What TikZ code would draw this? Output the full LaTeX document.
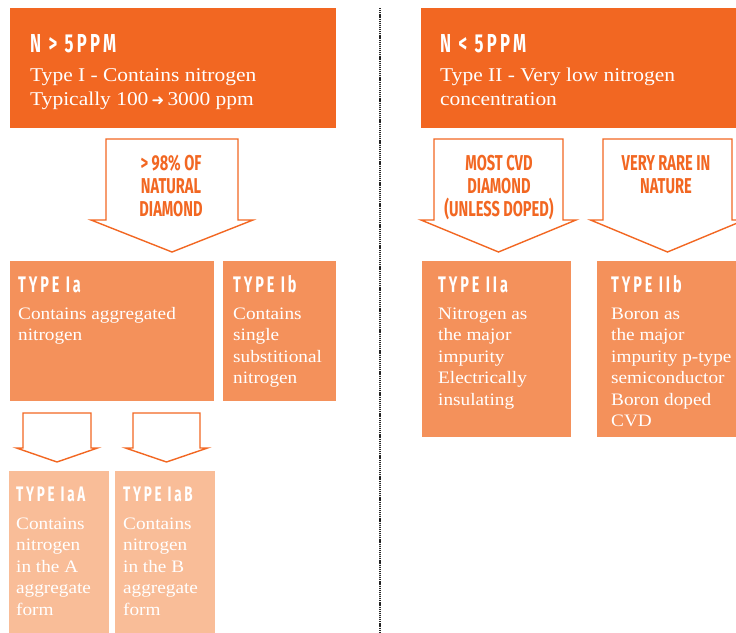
\documentclass[tikz,border=0pt]{standalone}
\usepackage{fontspec}
\setmainfont[FakeStretch=1.1]{Liberation Serif}
\newfontfamily\headfont[FakeStretch=0.64,LetterSpace=13]{Fira Sans}
\newfontfamily\tagfont[FakeStretch=0.68]{Fira Sans}
\newfontfamily\symfont{DejaVu Sans}
\definecolor{ordark}{HTML}{F26722}
\definecolor{ormid}{HTML}{F4915B}
\definecolor{orlight}{HTML}{F9BD98}
\tikzset{
  head/.style={anchor=base west, inner sep=0pt, text=white, font=\headfont\bfseries\fontsize{22.5}{22.5}\selectfont},
  body/.style={anchor=base west, inner sep=0pt, text=white, align=left, font=\fontsize{17.5}{21.5}\selectfont},
  tag/.style={anchor=base, inner sep=0pt, text=ordark, align=center, font=\tagfont\bfseries\fontsize{21.5}{23}\selectfont},
  blk/.style={draw=ordark, line width=1.4pt, fill=white, line join=miter},
  card/.style={anchor=north west, inner sep=0pt, draw=none}
}
\begin{document}
\begin{tikzpicture}[x=1pt, y=-1pt]
\useasboundingbox (0,0) rectangle (736,632);

\node[card, fill=ordark, minimum width=326, minimum height=120] (nI) at (10,8) {};
\node[card, fill=ordark, minimum width=330, minimum height=120] (nII) at (421,8) {};

\node[card, fill=ormid, minimum width=204, minimum height=140] (tIa) at (10,261) {};
\node[card, fill=ormid, minimum width=113, minimum height=140] (tIb) at (223,261) {};
\node[card, fill=ormid, minimum width=149, minimum height=176] (tIIa) at (422,261) {};
\node[card, fill=ormid, minimum width=150, minimum height=176] (tIIb) at (597,261) {};

\node[card, fill=orlight, minimum width=100, minimum height=170] (tIaA) at (9,471) {};
\node[card, fill=orlight, minimum width=100, minimum height=170] (tIaB) at (115,471) {};

\coordinate (dtop) at (380,8);
\coordinate (dbot) at (380,632);
\draw[line width=1.4pt, dash pattern=on 1.2pt off 0.9pt, black!85] (dtop) -- (dbot);

\foreach \cx/\bw/\hw/\yt/\yb/\yp in {172/66/81/139/220/252, 498.5/64.5/77.5/139/220/252, 667.5/64.5/77/139/220/252, 57/34/40.5/413/448/462, 166.5/33.5/41/413/448/462}{
\draw[blk] (\cx-\bw,\yt) -- (\cx+\bw,\yt) -- (\cx+\bw,\yb) -- (\cx+\hw,\yb) -- (\cx,\yp) -- (\cx-\hw,\yb) -- (\cx-\bw,\yb) -- cycle;
}

\node[head, font=\headfont\bfseries\fontsize{26}{26}\selectfont] (hI) at (30,52) {N > 5PPM};
\node[body, font=\fontsize{19.5}{24}\selectfont] (bI) at (30,105) {Type I - Contains nitrogen\\Typically 100\,{\symfont\fontsize{15}{15}\selectfont ➜}\,3000 ppm};
\node[head, font=\headfont\bfseries\fontsize{26}{26}\selectfont] (hII) at (440,52) {N < 5PPM};
\node[body, font=\fontsize{19.5}{24}\selectfont] (bII) at (440,105) {Type II - Very low nitrogen\\concentration};

\node[tag] (gI) at (171,216) {> 98\% OF\\NATURAL\\DIAMOND};
\node[tag] (gIIa) at (499,216) {MOST CVD\\DIAMOND\\(UNLESS DOPED)};
\node[tag] (gIIb) at (666,193) {VERY RARE IN\\NATURE};

\node[head] (hIa) at (18,292) {TYPE Ia};
\node[body] (bIa) at (18,340.5) {Contains aggregated\\nitrogen};
\node[head] (hIb) at (233,292) {TYPE Ib};
\node[body] (bIb) at (233,383.5) {Contains\\single\\substitional\\nitrogen};
\node[head] (hIIa) at (438,292) {TYPE IIa};
\node[body] (bIIa) at (438,405) {Nitrogen as\\the major\\impurity\\Electrically\\insulating};
\node[head] (hIIb) at (611,292) {TYPE IIb};
\node[body] (bIIb) at (611,426.5) {Boron as\\the major\\impurity p-type\\semiconductor\\Boron doped\\CVD};

\begin{scope}[every node/.append style={text=white!96!orange}]
\node[head, font=\headfont\bfseries\fontsize{21}{21}\selectfont] (hIaA) at (16,501) {TYPE IaA};
\node[body] (bIaA) at (16,615) {Contains\\nitrogen\\in the A\\aggregate\\form};
\node[head, font=\headfont\bfseries\fontsize{21}{21}\selectfont] (hIaB) at (123,501) {TYPE IaB};
\node[body] (bIaB) at (123,615) {Contains\\nitrogen\\in the B\\aggregate\\form};
\end{scope}
\end{tikzpicture}
\end{document}
